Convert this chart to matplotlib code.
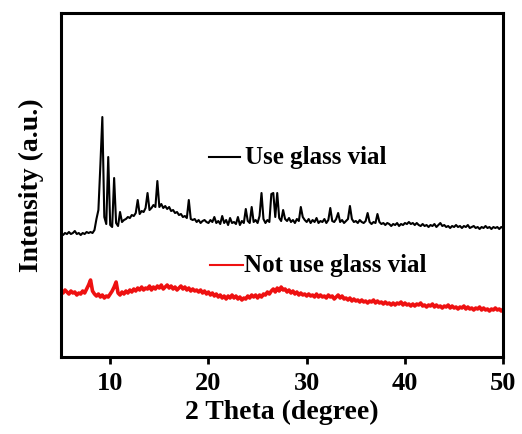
import numpy as np
import matplotlib
matplotlib.use("Agg")
import matplotlib.pyplot as plt
from matplotlib.lines import Line2D

# 2-theta grid (degrees), 0.2 deg step from 5 to 50
two_theta = np.linspace(5.0, 50.0, 226)

# "Use glass vial" intensity (a.u.)
use_glass = [
    123, 122, 124, 123, 125, 123, 124, 126, 123, 124,   # 5.0-6.8
    122, 124, 123, 125, 124, 125, 124, 127, 138, 147,   # 7.0-8.8
    192, 240, 140, 133, 200, 132, 130, 179, 134, 131,   # 9.0-10.8
    145, 135, 137, 138, 140, 139, 142, 141, 144, 157,   # 11.0-12.8
    143, 146, 145, 149, 164, 147, 149, 152, 150, 176,   # 13.0-14.8
    150, 153, 149, 151, 148, 150, 146, 147, 144, 145,   # 15.0-16.8
    142, 143, 140, 141, 139, 157, 138, 137, 138, 135,   # 17.0-18.8
    137, 134, 136, 137, 135, 134, 137, 135, 140, 134,   # 19.0-20.8
    136, 133, 141, 134, 137, 132, 139, 134, 135, 133,   # 21.0-22.8
    140, 132, 136, 134, 148, 136, 134, 150, 135, 137,   # 23.0-24.8
    134, 141, 164, 138, 134, 137, 135, 163, 164, 140,   # 25.0-26.8
    164, 139, 136, 147, 138, 136, 139, 135, 137, 134,   # 27.0-28.8
    138, 136, 150, 140, 137, 135, 138, 134, 137, 135,   # 29.0-30.8
    139, 134, 136, 135, 138, 134, 137, 149, 136, 135,   # 31.0-32.8
    138, 144, 135, 137, 134, 136, 138, 151, 138, 135,   # 33.0-34.8
    136, 134, 137, 135, 134, 136, 144, 135, 133, 135,   # 35.0-36.8
    134, 143, 135, 133, 134, 132, 134, 133, 131, 133,   # 37.0-38.8
    132, 134, 131, 133, 132, 134, 133, 135, 133, 134,   # 39.0-40.8
    132, 134, 132, 131, 133, 131, 132, 130, 132, 131,   # 41.0-42.8
    133, 130, 132, 134, 131, 132, 130, 131, 129, 131,   # 43.0-44.8
    130, 132, 130, 131, 129, 131, 130, 132, 129, 130,   # 45.0-46.8
    131, 129, 130, 128, 130, 129, 131, 129, 130, 128,   # 47.0-48.8
    130, 129, 130, 128, 130, 129,                       # 49.0-50.0
]

# "Not use glass vial" intensity (a.u.)
not_use_glass = [
    66, 64, 67, 65, 63, 66, 64, 65, 62, 64,   # 5.0-6.8
    63, 66, 64, 68, 72, 77, 66, 63, 61, 63,   # 7.0-8.8
    60, 62, 59, 61, 60, 63, 66, 70, 75, 64,   # 9.0-10.8
    62, 65, 63, 66, 64, 67, 65, 68, 66, 69,   # 11.0-12.8
    67, 70, 67, 69, 68, 71, 67, 70, 68, 71,   # 13.0-14.8
    69, 72, 68, 70, 72, 69, 71, 68, 70, 67,   # 15.0-16.8
    69, 71, 68, 70, 67, 69, 66, 68, 66, 67,   # 17.0-18.8
    65, 67, 64, 66, 63, 65, 62, 64, 61, 63,   # 19.0-20.8
    60, 62, 59, 61, 58, 61, 59, 62, 59, 61,   # 21.0-22.8
    58, 60, 57, 59, 58, 61, 59, 62, 60, 62,   # 23.0-24.8
    59, 62, 60, 63, 62, 65, 63, 66, 68, 65,   # 25.0-26.8
    69, 66, 70, 67, 68, 65, 67, 64, 66, 63,   # 27.0-28.8
    65, 62, 64, 62, 63, 61, 63, 61, 62, 60,   # 29.0-30.8
    63, 60, 62, 60, 61, 59, 62, 60, 61, 58,   # 31.0-32.8
    60, 62, 59, 61, 58, 59, 57, 59, 56, 58,   # 33.0-34.8
    56, 57, 55, 57, 55, 56, 54, 56, 55, 57,   # 35.0-36.8
    54, 56, 54, 55, 53, 55, 53, 54, 52, 54,   # 37.0-38.8
    52, 54, 53, 55, 52, 54, 52, 53, 51, 53,   # 39.0-40.8
    51, 53, 52, 54, 51, 52, 50, 52, 51, 53,   # 41.0-42.8
    50, 52, 50, 51, 49, 51, 50, 52, 49, 51,   # 43.0-44.8
    49, 50, 48, 50, 49, 51, 48, 50, 48, 49,   # 45.0-46.8
    47, 49, 48, 50, 47, 49, 47, 48, 46, 48,   # 47.0-48.8
    47, 49, 47, 48, 46, 48,                   # 49.0-50.0
]

x_ticks = [10, 20, 30, 40, 50]
labels = ["Use glass vial", "Not use glass vial"]
colors = ["black", "#ee1111"]

assert len(use_glass) == len(two_theta) == len(not_use_glass)

plt.rcParams['font.family'] = ['Liberation Serif', 'DejaVu Serif']
plt.rcParams['font.weight'] = 'bold'

fig = plt.figure(figsize=(5.22, 4.34), dpi=100)
ax = fig.add_axes([0.117, 0.1774, 0.847, 0.7926])

ax.plot(two_theta, use_glass, color=colors[0], lw=1.5)
ax.plot(two_theta, not_use_glass, color=colors[1], lw=2.6)

ax.set_xlim(5, 50)
ax.set_ylim(0, 344)
ax.set_xticks(x_ticks)
ax.set_xticklabels([str(t) for t in x_ticks], fontsize=19, fontweight='bold')
ax.set_yticks([])
ax.tick_params(axis='x', direction='out', length=5, width=2, pad=6)
for s in ax.spines.values():
    s.set_linewidth(2.2)

ax.set_xlabel("2 Theta (degree)", fontsize=20, fontweight='bold', labelpad=3)
ax.set_ylabel("Intensity (a.u.)", fontsize=20, fontweight='bold', labelpad=12)

# in-plot labels
ax.add_line(Line2D([0.335, 0.405], [0.581, 0.581], transform=ax.transAxes,
                   color=colors[0], lw=1.5))
ax.text(0.416, 0.581, labels[0], transform=ax.transAxes, fontsize=18,
        fontweight='bold', va='center', ha='left')
ax.add_line(Line2D([0.337, 0.412], [0.267, 0.267], transform=ax.transAxes,
                   color=colors[1], lw=1.5))
ax.text(0.414, 0.267, labels[1], transform=ax.transAxes, fontsize=18,
        fontweight='bold', va='center', ha='left')

fig.savefig("out.png", dpi=100)
